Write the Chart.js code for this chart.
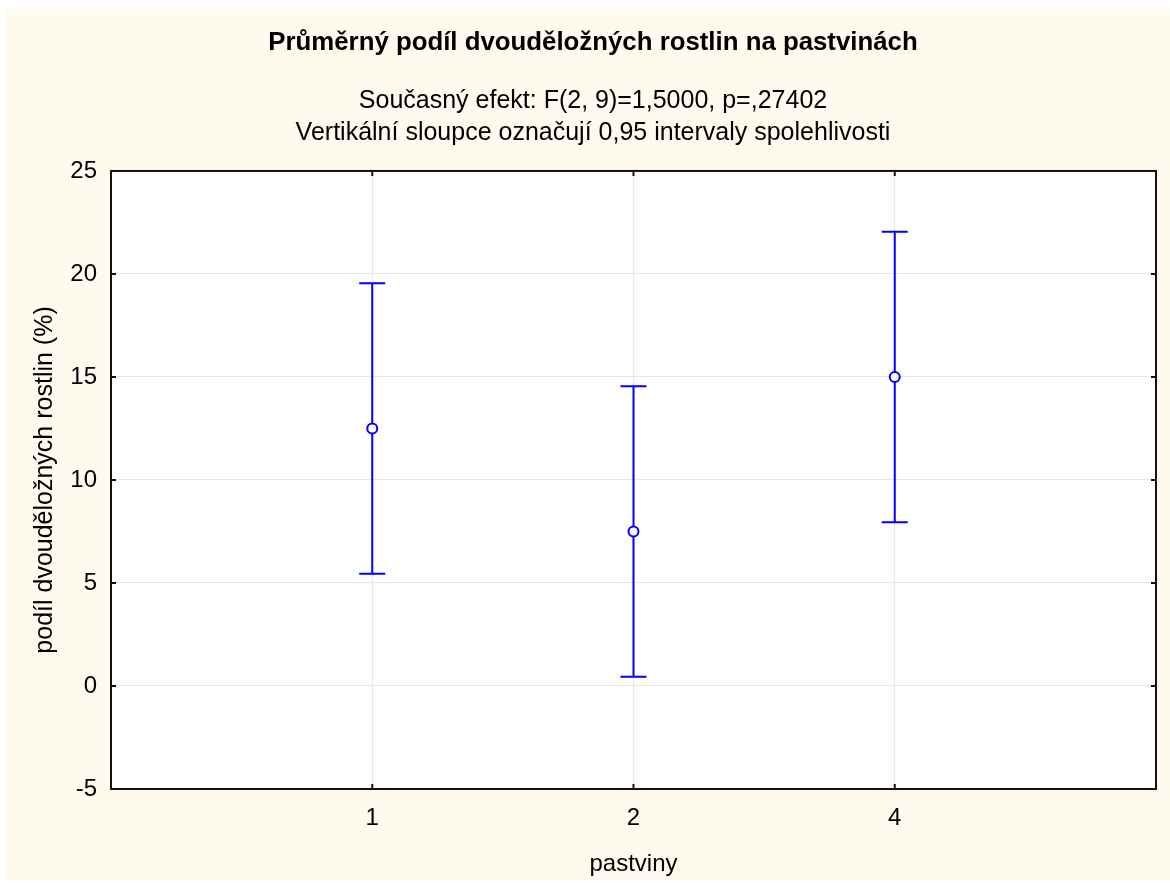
<!DOCTYPE html>
<html>
<head>
<meta charset="utf-8">
<script src="https://cdn.jsdelivr.net/npm/chart.js@4/dist/chart.umd.min.js"></script>
<style>
    body { margin: 0; background: #ffffff; }
    #wrap { position: absolute; left: 6px; top: 9px; width: 1164px; height: 872px; background: #fffaee; }
</style>
</head>
<body>
<div id="wrap"><canvas id="meansChart" width="1164" height="872"></canvas></div>
<script>
// Data
const groups = ['1', '2', '4'];
const groupPos = [1, 2, 3];
const means = [12.5, 7.5, 15];
const lower = [5.45, 0.45, 7.95];
const upper = [19.55, 14.55, 22.05];
const yTicks = [-5, 0, 5, 10, 15, 20, 25];

const blue = '#0000ff';
const fontName = "'Liberation Sans', Arial, sans-serif";

// white plot area, error bars, frame with inward ticks
const framePlugin = {
    id: 'frame',
    beforeDraw(chart) {
        const a = chart.chartArea;
        const ctx = chart.ctx;
        ctx.save();
        ctx.fillStyle = '#ffffff';
        ctx.fillRect(a.left, a.top, a.right - a.left, a.bottom - a.top);
        ctx.restore();
    },
    beforeDatasetsDraw(chart) {
        const ctx = chart.ctx;
        const x = chart.scales.x;
        const y = chart.scales.y;
        ctx.save();
        ctx.strokeStyle = blue;
        ctx.lineWidth = 2;
        groupPos.forEach((p, i) => {
            const px = x.getPixelForValue(p);
            const lo = y.getPixelForValue(lower[i]);
            const hi = y.getPixelForValue(upper[i]);
            ctx.beginPath();
            ctx.moveTo(px, lo);
            ctx.lineTo(px, hi);
            ctx.moveTo(px - 13, lo);
            ctx.lineTo(px + 13, lo);
            ctx.moveTo(px - 13, hi);
            ctx.lineTo(px + 13, hi);
            ctx.stroke();
        });
        ctx.restore();
    },
    afterDraw(chart) {
        const a = chart.chartArea;
        const ctx = chart.ctx;
        const x = chart.scales.x;
        const y = chart.scales.y;
        ctx.save();
        ctx.strokeStyle = '#111111';
        ctx.lineWidth = 2;
        ctx.beginPath();
        groupPos.forEach(p => {
            const px = x.getPixelForValue(p);
            ctx.moveTo(px, a.bottom);
            ctx.lineTo(px, a.bottom - 5);
            ctx.moveTo(px, a.top);
            ctx.lineTo(px, a.top + 5);
        });
        yTicks.forEach(v => {
            const py = y.getPixelForValue(v);
            ctx.moveTo(a.left, py);
            ctx.lineTo(a.left + 5, py);
            ctx.moveTo(a.right, py);
            ctx.lineTo(a.right - 5, py);
        });
        ctx.stroke();
        ctx.strokeRect(a.left, a.top, a.right - a.left, a.bottom - a.top);
        ctx.restore();
    }
};

const ctx = document.getElementById('meansChart').getContext('2d');
const meansChart = new Chart(ctx, {
    type: 'scatter',
    data: {
        datasets: [{
            label: 'průměr',
            data: groupPos.map((p, i) => ({ x: p, y: means[i] })),
            pointStyle: 'circle',
            pointRadius: 5,
            pointBorderWidth: 2,
            borderColor: blue,
            backgroundColor: '#ffffff'
        }]
    },
    options: {
        responsive: false,
        animation: false,
        events: [],
        layout: { padding: { left: 24, right: 14, top: 0, bottom: 0 } },
        plugins: {
            legend: { display: false },
            tooltip: { enabled: false },
            title: {
                display: true,
                text: 'Průměrný podíl dvouděložných rostlin na pastvinách',
                color: '#000000',
                font: { family: fontName, size: 25.8, weight: 'bold', lineHeight: 1.2 },
                padding: { top: 18, bottom: 8 }
            },
            subtitle: {
                display: true,
                text: ['Současný efekt: F(2, 9)=1,5000, p=,27402',
                       'Vertikální sloupce označují 0,95 intervaly spolehlivosti'],
                color: '#000000',
                font: { family: fontName, size: 25, lineHeight: 1.28 },
                padding: { top: 19, bottom: 22 }
            }
        },
        scales: {
            x: {
                type: 'linear',
                min: 0,
                max: 4,
                afterBuildTicks(scale) {
                    scale.ticks = groupPos.map(v => ({ value: v }));
                },
                afterFit(scale) { scale.height = 92; },
                ticks: {
                    color: '#000000',
                    font: { family: fontName, size: 24 },
                    padding: 15,
                    maxRotation: 0,
                    callback: (v) => groups[groupPos.indexOf(v)] || ''
                },
                grid: { color: '#e8e8e8', lineWidth: 1, drawTicks: false },
                border: { display: false },
                title: {
                    display: true,
                    text: 'pastviny',
                    color: '#000000',
                    font: { family: fontName, size: 24, lineHeight: 1.2 },
                    padding: { top: 0, bottom: 2 }
                }
            },
            y: {
                min: -5,
                max: 25,
                afterBuildTicks(scale) {
                    scale.ticks = yTicks.map(v => ({ value: v }));
                },
                afterFit(scale) { scale.width = 81; },
                ticks: {
                    color: '#000000',
                    font: { family: fontName, size: 24 },
                    padding: 14
                },
                grid: { color: '#e8e8e8', lineWidth: 1, drawTicks: false },
                border: { display: false },
                title: {
                    display: true,
                    text: 'podíl dvouděložných rostlin (%)',
                    color: '#000000',
                    font: { family: fontName, size: 25, lineHeight: 1.2 },
                    padding: { top: 0, bottom: 0 }
                }
            }
        }
    },
    plugins: [framePlugin]
});
</script>
</body>
</html>
